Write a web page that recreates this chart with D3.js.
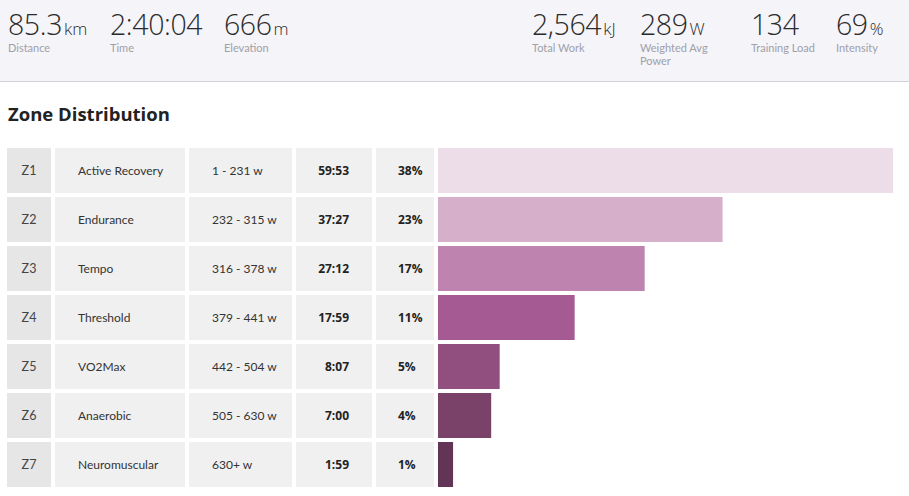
<!DOCTYPE html>
<html><head><meta charset="utf-8">
<script src="https://cdn.jsdelivr.net/npm/d3@7"></script>
<style>
html,body{margin:0;padding:0;background:#fff;}
svg{display:block;font-family:"Open Sans","Noto Sans",sans-serif;}
</style></head>
<body><svg id="c" width="909" height="496"></svg>
<script>
// ---- data ----
const zones = ["Z1","Z2","Z3","Z4","Z5","Z6","Z7"];
const zoneNames = ["Active Recovery","Endurance","Tempo","Threshold","VO2Max","Anaerobic","Neuromuscular"];
const zoneRanges = ["1 - 231 w","232 - 315 w","316 - 378 w","379 - 441 w","442 - 504 w","505 - 630 w","630+ w"];
const zoneTimes = ["59:53","37:27","27:12","17:59","8:07","7:00","1:59"];
const zonePcts = ["38%","23%","17%","11%","5%","4%","1%"];
const zoneColors = ["#eddde8","#d6b0cb","#be84af","#a65a93","#904f7e","#7a4169","#623456"];

const statValues = ["85.3","2:40:04","666","2,564","289","134","69"];
const statUnits = ["km","","m","kJ","W","","%"];
const statLabels = [["Distance"],["Time"],["Elevation"],["Total Work"],["Weighted Avg","Power"],["Training Load"],["Intensity"]];
const statX = [8,110,224,532,640,751,836];

// ---- drawing ----
const svg = d3.select("#c");
const toSec = s => { const [m, sec] = s.split(":").map(Number); return m*60+sec; };
const secs = zoneTimes.map(toSec);

// header
svg.append("rect").attr("x",0).attr("y",0).attr("width",909).attr("height",81).attr("fill","#f4f4f9");
svg.append("rect").attr("x",0).attr("y",81).attr("width",909).attr("height",1).attr("fill","#d2d2d6");

const stats = svg.append("g").selectAll("g").data(statValues.map((v,i)=>({v,u:statUnits[i],l:statLabels[i],x:statX[i]})))
  .join("g").attr("transform", d=>`translate(${d.x},0)`);
const t = stats.append("text").attr("y",34.5).attr("fill","#2b2b2b").style("font-weight",300);
t.append("tspan").text(d=>d.v).style("font-size","28.5px").attr("letter-spacing","-0.4");
t.append("tspan").text(d=>d.u).style("font-size","17px").attr("dx",2);
stats.each(function(d){
  d3.select(this).selectAll("text.lab").data(d.l).join("text").attr("class","lab")
    .attr("x",0).attr("y",(_,j)=>52+j*12.5).attr("fill","#a0a0a8").style("font-size","11px")
    .style("font-family","Lato,'Open Sans',sans-serif").text(s=>s);
});

// title
svg.append("text").attr("x",8).attr("y",121).attr("fill","#222").style("font-size","18.5px").style("font-weight",700).text("Zone Distribution");

// table rows
const y = d3.scaleBand().domain(zones).range([148,487]).paddingInner(4/49).paddingOuter(0);
const x = d3.scaleLinear().domain([0, d3.max(secs)]).range([0,455]);
const barX0 = 438;

const rows = zones.map((z,i)=>({z,name:zoneNames[i],range:zoneRanges[i],time:zoneTimes[i],pct:zonePcts[i],sec:secs[i],color:zoneColors[i]}));
const g = svg.append("g").selectAll("g").data(rows).join("g").attr("transform",d=>`translate(0,${y(d.z)})`);
const h = y.bandwidth();
const cols = [[7,44,"#e6e6e6"],[55,130,"#f0f0f0"],[189,103,"#f0f0f0"],[296,76,"#f0f0f0"],[376,58,"#f0f0f0"]];
cols.forEach(c=>{
  g.append("rect").attr("x",c[0]).attr("width",c[1]).attr("y",0).attr("height",h).attr("fill",c[2]);
});
const ty = h/2+4.5;
const lato = "Lato,'Open Sans',sans-serif";
g.append("text").attr("x",29).attr("y",ty).attr("text-anchor","middle").attr("fill","#444").style("font-family",lato).style("font-size","12.5px").text(d=>d.z);
g.append("text").attr("x",78).attr("y",ty).attr("fill","#333").style("font-family",lato).style("font-size","12px").text(d=>d.name);
g.append("text").attr("x",212).attr("y",ty).attr("fill","#333").style("font-family",lato).style("font-size","12px").text(d=>d.range);
g.append("text").attr("x",349).attr("y",ty).attr("text-anchor","end").attr("fill","#222").style("font-size","12px").style("font-weight",700).text(d=>d.time);
g.append("text").attr("x",398).attr("y",ty).attr("fill","#222").style("font-size","12px").style("font-weight",700).text(d=>d.pct);
g.append("rect").attr("x",barX0).attr("y",0).attr("height",h).attr("width",d=>x(d.sec)).attr("fill",d=>d.color);
</script></body></html>
